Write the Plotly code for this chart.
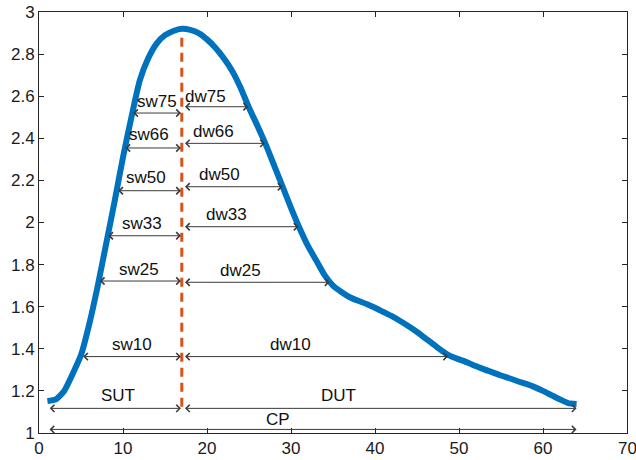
import plotly.graph_objects as go

# ---- data ----
curve_x = list(range(1, 65))
curve_y = [1.152, 1.16, 1.20, 1.28, 1.37, 1.52, 1.70, 1.90, 2.10, 2.31,
           2.50, 2.675, 2.78, 2.85, 2.89, 2.91, 2.92, 2.915, 2.90, 2.87,
           2.83, 2.78, 2.72, 2.64, 2.545, 2.46, 2.37, 2.27, 2.17, 2.07,
           1.975, 1.89, 1.82, 1.75, 1.70, 1.67, 1.645, 1.628, 1.613, 1.595,
           1.575, 1.555, 1.532, 1.507, 1.48, 1.45, 1.42, 1.39, 1.365, 1.35,
           1.335, 1.318, 1.302, 1.288, 1.273, 1.26, 1.246, 1.233, 1.218, 1.20,
           1.18, 1.16, 1.142, 1.138]

peak_x = 17
peak_line_y = [1.125, 2.88]

# double arrows: (label, x_start, x_end, y_level, label_x, label_y)
arrow_labels = ["sw75", "sw66", "sw50", "sw33", "sw25", "sw10", "SUT",
                "dw75", "dw66", "dw50", "dw33", "dw25", "dw10", "DUT", "CP"]
arrow_x0 = [11.03, 10.1, 9.25, 8.06, 7.06, 5.08, 1.1,
            17.2, 17.2, 17.2, 17.2, 17.2, 17.2, 17.2, 1.07]
arrow_x1 = [16.9, 16.9, 16.9, 16.9, 16.9, 16.9, 16.9,
            24.9, 26.9, 29.0, 30.9, 34.6, 48.7, 64.0, 64.0]
arrow_y = [2.52, 2.354, 2.151, 1.937, 1.722, 1.363, 1.117,
           2.55, 2.376, 2.17, 1.98, 1.716, 1.363, 1.117, 1.017]
label_x = [14.0, 13.1, 12.7, 12.3, 11.9, 11.1, 9.4,
           19.8, 20.75, 21.5, 22.3, 24.0, 29.9, 35.7, 28.4]
label_y = [2.574, 2.416, 2.215, 1.996, 1.779, 1.421, 1.18,
           2.60, 2.43, 2.23, 2.039, 1.774, 1.42, 1.18, 1.062]

x_ticks = [0, 10, 20, 30, 40, 50, 60, 70]
y_ticks = [1, 1.2, 1.4, 1.6, 1.8, 2, 2.2, 2.4, 2.6, 2.8, 3]

FONT = "Liberation Sans, Arial, Helvetica, sans-serif"
TICKFONT = dict(family=FONT, size=17, color="#1a1a1a")

fig = go.Figure()
fig.add_trace(go.Scatter(x=curve_x, y=curve_y, mode="lines",
                         line=dict(color="#0072BD", width=6, shape="spline", smoothing=0.6),
                         showlegend=False, hoverinfo="skip"))
fig.add_trace(go.Scatter(x=[peak_x, peak_x], y=peak_line_y, mode="lines",
                         line=dict(color="#D95319", width=3, dash="9px,6px"),
                         showlegend=False, hoverinfo="skip"))

annotations = []
for lab, x0, x1, y, lx, ly in zip(arrow_labels, arrow_x0, arrow_x1, arrow_y, label_x, label_y):
    annotations.append(dict(x=x1, y=y, ax=x0, ay=y, xref="x", yref="y",
                            axref="x", ayref="y", text="", showarrow=True,
                            arrowside="end+start", arrowhead=4, startarrowhead=4,
                            arrowsize=1.4, startarrowsize=1.4, arrowwidth=1,
                            arrowcolor="#3a3a3a", standoff=0, startstandoff=0))
    annotations.append(dict(x=lx, y=ly, xref="x", yref="y", text=lab,
                            showarrow=False, font=dict(family=FONT, size=17, color="#111111"),
                            xanchor="center", yanchor="middle"))

# last x tick label drawn as text so it is not dropped at the page edge
x_ticktext = [str(v) for v in x_ticks]
last_label = x_ticktext[-1]
x_ticktext[-1] = ""
annotations.append(dict(x=x_ticks[-1], y=0, xref="x", yref="paper", text=last_label,
                        showarrow=False, font=TICKFONT, xanchor="center", yanchor="top",
                        yshift=-4))

axis_common = dict(showline=True, linecolor="#262626", linewidth=1, mirror="ticks",
                   ticks="inside", ticklen=5, tickcolor="#262626", showgrid=False,
                   zeroline=False, automargin=False, tickfont=TICKFONT)

fig.update_layout(
    width=636, height=460,
    margin=dict(l=39, r=9, t=12, b=27),
    paper_bgcolor="white", plot_bgcolor="white",
    xaxis=dict(range=[0, 70], tickvals=x_ticks, ticktext=x_ticktext, **axis_common),
    yaxis=dict(range=[1, 3], tickvals=y_ticks, ticktext=[("%g" % v) for v in y_ticks],
               **axis_common),
    annotations=annotations,
)

fig.write_html("out.html", config={"displayModeBar": False},
               post_script="document.body.style.margin='0px';document.body.style.overflow='hidden';")
